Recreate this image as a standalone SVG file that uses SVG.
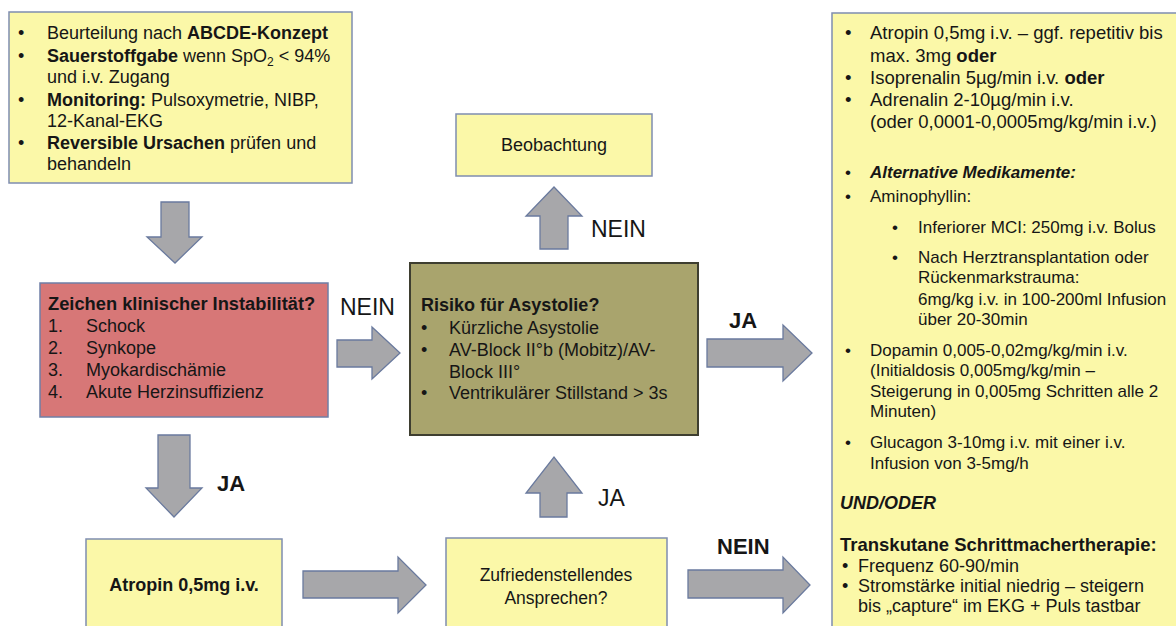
<svg xmlns="http://www.w3.org/2000/svg" width="1176" height="626" viewBox="0 0 1176 626">
<style>
text{font-family:"Liberation Sans",Arial,sans-serif;fill:#161616;}
.t18{font-size:18px}
.t17{font-size:17px}
.b{font-weight:bold}
.i{font-style:italic}
.yel{fill:#fbf8a8;stroke:#7f8db0;stroke-width:1.5}
.red{fill:#d77777;stroke:#6f7fa6;stroke-width:1.5}
.olv{fill:#a9a46d;stroke:#3e3e30;stroke-width:2}
.arr{fill:#a7a7aa;stroke:#6a7a9e;stroke-width:1.3}
.lbl{font-size:23px}
.lblb{font-size:22px;font-weight:bold}
.c{text-anchor:middle}
</style>
<rect width="1176" height="626" fill="#ffffff"/>

<g id="node-abcde">
<rect class="yel" x="9" y="12" width="343" height="171"/>
<g class="t18">
<text x="18" y="39">•</text><text x="47" y="39">Beurteilung nach <tspan class="b">ABCDE-Konzept</tspan></text>
<text x="18" y="62">•</text><text x="47" y="62"><tspan class="b">Sauerstoffgabe</tspan> wenn SpO<tspan font-size="12" dy="4">2</tspan><tspan dy="-4"> &lt; 94%</tspan></text>
<text x="47" y="83">und i.v. Zugang</text>
<text x="18" y="106">•</text><text x="47" y="106"><tspan class="b">Monitoring:</tspan> Pulsoxymetrie, NIBP,</text>
<text x="47" y="127">12-Kanal-EKG</text>
<text x="18" y="149">•</text><text x="47" y="149"><tspan class="b">Reversible Ursachen</tspan> prüfen und</text>
<text x="47" y="170">behandeln</text>
</g>
</g>

<g id="node-instabil">
<rect class="red" x="40" y="283" width="288" height="134"/>
<g class="t18">
<text class="b" x="48" y="310" font-size="18.3">Zeichen klinischer Instabilität?</text>
<text x="48" y="332">1.</text><text x="86" y="332">Schock</text>
<text x="48" y="354">2.</text><text x="86" y="354">Synkope</text>
<text x="48" y="376">3.</text><text x="86" y="376">Myokardischämie</text>
<text x="48" y="398">4.</text><text x="86" y="398">Akute Herzinsuffizienz</text>
</g>
</g>

<g id="node-asystolie">
<rect class="olv" x="410" y="263" width="288" height="172"/>
<g class="t18">
<text class="b" x="421" y="311">Risiko für Asystolie?</text>
<text x="421" y="334">•</text><text x="449" y="334">Kürzliche Asystolie</text>
<text x="421" y="356">•</text><text x="449" y="356">AV-Block II°b (Mobitz)/AV-</text>
<text x="449" y="378">Block III°</text>
<text x="421" y="399">•</text><text x="449" y="399">Ventrikulärer Stillstand &gt; 3s</text>
</g>
</g>

<g id="node-beobachtung">
<rect class="yel" x="456" y="114" width="196" height="62"/>
<text class="t18 c" x="554" y="151">Beobachtung</text>
</g>

<g id="node-atropin">
<rect class="yel" x="86" y="539" width="196" height="95"/>
<text class="t18 b c" x="184" y="591">Atropin 0,5mg i.v.</text>
</g>

<g id="node-ansprechen">
<rect class="yel" x="446" y="538" width="221" height="96"/>
<text class="c" font-size="17.5" x="556" y="581">Zufriedenstellendes</text>
<text class="c" font-size="17.5" x="556" y="604">Ansprechen?</text>
</g>

<g id="node-therapie">
<rect class="yel" x="832" y="13" width="360" height="630"/>
<g font-size="18.5">
<text x="845" y="39">•</text><text x="870" y="39">Atropin 0,5mg i.v. – ggf. repetitiv bis</text>
<text x="870" y="62">max. 3mg <tspan class="b">oder</tspan></text>
<text x="845" y="84">•</text><text x="870" y="84">Isoprenalin 5µg/min i.v. <tspan class="b">oder</tspan></text>
<text x="845" y="106">•</text><text x="870" y="106">Adrenalin 2-10µg/min i.v.</text>
<text x="870" y="128">(oder 0,0001-0,0005mg/kg/min i.v.)</text>
</g>
<g class="t17">
<text x="845" y="178">•</text><text class="b i" x="870" y="178">Alternative Medikamente:</text>
<text x="845" y="202">•</text><text x="870" y="202">Aminophyllin:</text>
<text x="892" y="233">•</text><text x="918" y="233">Inferiorer MCI: 250mg i.v. Bolus</text>
<text x="892" y="263">•</text><text x="918" y="263">Nach Herztransplantation oder</text>
<text x="918" y="283">Rückenmarkstrauma:</text>
<text x="918" y="305">6mg/kg i.v. in 100-200ml Infusion</text>
<text x="918" y="325">über 20-30min</text>
<text x="845" y="356">•</text><text x="870" y="356">Dopamin 0,005-0,02mg/kg/min i.v.</text>
<text x="870" y="376">(Initialdosis 0,005mg/kg/min –</text>
<text x="870" y="397">Steigerung in 0,005mg Schritten alle 2</text>
<text x="870" y="417">Minuten)</text>
<text x="845" y="448">•</text><text x="870" y="448">Glucagon 3-10mg i.v. mit einer i.v.</text>
<text x="870" y="469">Infusion von 3-5mg/h</text>
</g>
<g class="t18">
<text class="b i" x="840" y="509">UND/ODER</text>
<text class="b" x="840" y="551" font-size="18.5">Transkutane Schrittmachertherapie:</text>
<text x="842" y="572">•</text><text x="858" y="572">Frequenz 60-90/min</text>
<text x="842" y="592">•</text><text x="858" y="592">Stromstärke initial niedrig – steigern</text>
<text x="858" y="612">bis „capture“ im EKG + Puls tastbar</text>
</g>
</g>

<g id="connectors">
<polygon class="arr" points="161,202 189,202 189,237 202,237 175,263 147,237 161,237"/>
<polygon class="arr" points="337,340 372,340 372,327 400,353 372,379 372,367 337,367"/>
<polygon class="arr" points="540,249 540,216 526,216 554,187 582,216 568,216 568,249"/>
<polygon class="arr" points="707,339 783,339 783,325 812,353 783,381 783,367 707,367"/>
<polygon class="arr" points="158,435 190,435 190,488 202,488 174,517 146,488 158,488"/>
<polygon class="arr" points="303,571 398,571 398,557 426,585 398,613 398,598 303,598"/>
<polygon class="arr" points="540,517 540,493 526,493 554,457 582,493 567,493 567,517"/>
<polygon class="arr" points="688,570 783,570 783,557 810,585 783,613 783,598 688,598"/>
<text class="lbl" x="340" y="315">NEIN</text>
<text class="lbl" x="591" y="237">NEIN</text>
<text class="lblb" x="729" y="328">JA</text>
<text class="lblb" x="217" y="491">JA</text>
<text class="lbl" x="598" y="506" font-size="21">JA</text>
<text class="lblb" x="717" y="554">NEIN</text>
</g>
</svg>
